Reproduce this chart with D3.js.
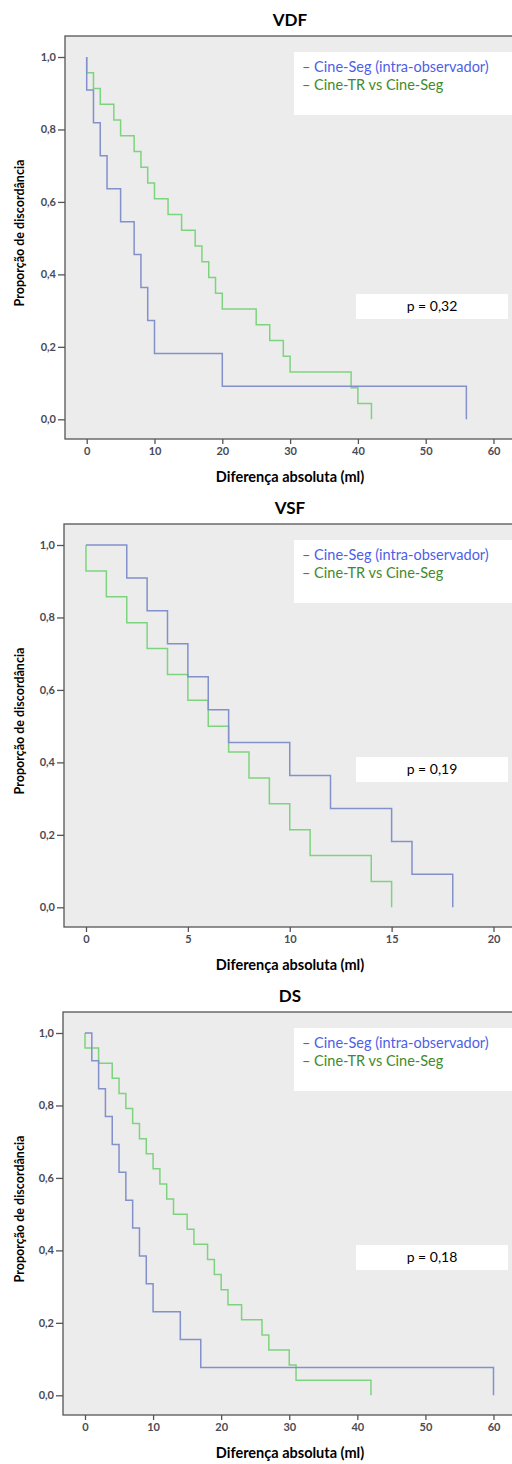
<!DOCTYPE html>
<html>
<head>
<meta charset="utf-8">
<script src="https://cdn.jsdelivr.net/npm/d3@7"></script>
<style>
  body { margin: 0; background: #fff; }
  svg text { font-family: Lato, "Open Sans", sans-serif; }
</style>
</head>
<body>
<div id="viz"></div>
<script>
// absolute differences (ml) per case
var vdfIntra = [0, 1, 2, 3, 5, 7, 8, 9, 10, 20, 56];
var vdfTR = [0, 1, 2, 4, 5, 7, 8, 9, 10, 12, 14, 16, 17, 18, 19, 20, 25, 27, 29, 30, 39, 40, 42];
var vsfIntra = [2, 3, 4, 5, 6, 7, 10, 12, 15, 16, 18];
var vsfTR = [0, 1, 2, 3, 4, 5, 6, 7, 8, 9, 10, 11, 14, 15];
var dsIntra = [1, 2, 3, 4, 5, 6, 7, 8, 9, 10, 14, 17, 60];
var dsTR = [0, 2, 4, 5, 6, 7, 8, 9, 10, 11, 12, 13, 15, 16, 18, 19, 20, 21, 23, 26, 27, 30, 31, 42];

var titles = ['VDF', 'VSF', 'DS'];
var xMax = [60, 20, 60];
var xTicks = [[0, 10, 20, 30, 40, 50, 60], [0, 5, 10, 15, 20], [0, 10, 20, 30, 40, 50, 60]];
var yTicks = [0, 0.2, 0.4, 0.6, 0.8, 1.0];
var pValues = ['p = 0,32', 'p = 0,19', 'p = 0,18'];
var seriesNames = ['Cine-Seg (intra-observador)', 'Cine-TR vs Cine-Seg'];

var panels = [
  {intra: vdfIntra, tr: vdfTR, top: 36, left: 65, x0: 86.7, pY: 258},
  {intra: vsfIntra, tr: vsfTR, top: 524, left: 64, x0: 86, pY: 233},
  {intra: dsIntra, tr: dsTR, top: 1012, left: 63, x0: 85, pY: 233}
];

var w = 512, h = 1464;
var lineCol = ['#8290cc', '#7ed47e'];
var textCol = ['#4d5fe6', '#3f8a2c'];

var svg = d3.select('#viz')
            .append('svg')
            .attr('width', w)
            .attr('height', h);

// step points for 1 - empirical cdf
function steps(vals) {
  var n = vals.length;
  var pts = [[0, 1]];
  vals.forEach(function(v, i) {
    pts.push([v, 1 - i / n]);
    pts.push([v, 1 - (i + 1) / n]);
  });
  return pts;
}

panels.forEach(function(p, k) {
  var g = svg.append('g');
  var bottom = p.top + 403;

  var x = d3.scaleLinear()
            .domain([0, xMax[k]])
            .range([p.x0, 493.5]);
  var y = d3.scaleLinear()
            .domain([0, 1])
            .range([p.top + 383.3, p.top + 21]);

  g.append('rect')
   .attr('x', p.left)
   .attr('y', p.top)
   .attr('width', w - p.left + 10)
   .attr('height', bottom - p.top)
   .attr('fill', '#ececec')
   .attr('stroke', '#555')
   .attr('stroke-width', 1.3);

  g.append('text')
   .attr('x', 290)
   .attr('y', p.top - 10)
   .attr('text-anchor', 'middle')
   .style('font-size', '17px')
   .style('font-weight', 'bold')
   .text(titles[k]);

  var xAxis = g.append('g')
               .attr('transform', 'translate(0,' + bottom + ')')
               .call(d3.axisBottom(x).tickValues(xTicks[k]).tickSize(5).tickPadding(3));
  xAxis.select('.domain').remove();
  xAxis.selectAll('line').attr('stroke', '#555').attr('stroke-width', 1.3);
  xAxis.selectAll('text').attr('fill', '#4a4a55').style('font-size', '11px').style('font-weight', 'bold');

  var yAxis = g.append('g')
               .attr('transform', 'translate(' + p.left + ',0)')
               .call(d3.axisLeft(y).tickValues(yTicks).tickSize(7).tickPadding(2)
                       .tickFormat(function(d) { return d3.format('.1f')(d).replace('.', ','); }));
  yAxis.select('.domain').remove();
  yAxis.selectAll('line').attr('stroke', '#555').attr('stroke-width', 1.3);
  yAxis.selectAll('text').attr('fill', '#4a4a55').style('font-size', '11px').style('font-weight', 'bold');

  g.append('text')
   .attr('x', 290)
   .attr('y', bottom + 43)
   .attr('text-anchor', 'middle')
   .style('font-size', '14.5px')
   .style('font-weight', 'bold')
   .text('Diferença absoluta (ml)');

  g.append('text')
   .attr('transform', 'translate(24,' + (p.top + 197) + ') rotate(-90)')
   .attr('text-anchor', 'middle')
   .style('font-size', '12.5px')
   .style('font-weight', 'bold')
   .text('Proporção de discordância');

  var line = d3.line()
               .x(function(d) { return x(d[0]); })
               .y(function(d) { return y(d[1]); });

  [p.tr, p.intra].forEach(function(s, j) {
    g.append('path')
     .datum(steps(s))
     .attr('d', line)
     .attr('fill', 'none')
     .attr('stroke', lineCol[1 - j])
     .attr('stroke-width', 1.5);
  });

  // legend
  g.append('rect')
   .attr('x', 294)
   .attr('y', p.top + 16)
   .attr('width', 230)
   .attr('height', 63)
   .attr('fill', '#fff');
  seriesNames.forEach(function(s, j) {
    g.append('text')
     .attr('x', 302)
     .attr('y', p.top + 36 + j * 18)
     .attr('fill', textCol[j])
     .style('font-size', '14.5px')
     .text('– ' + s);
  });

  g.append('rect')
   .attr('x', 356)
   .attr('y', p.top + p.pY)
   .attr('width', 152)
   .attr('height', 25)
   .attr('fill', '#fff');
  g.append('text')
   .attr('x', 432)
   .attr('y', p.top + p.pY + 17)
   .attr('text-anchor', 'middle')
   .style('font-size', '14px')
   .text(pValues[k]);
});
</script>
</body>
</html>
